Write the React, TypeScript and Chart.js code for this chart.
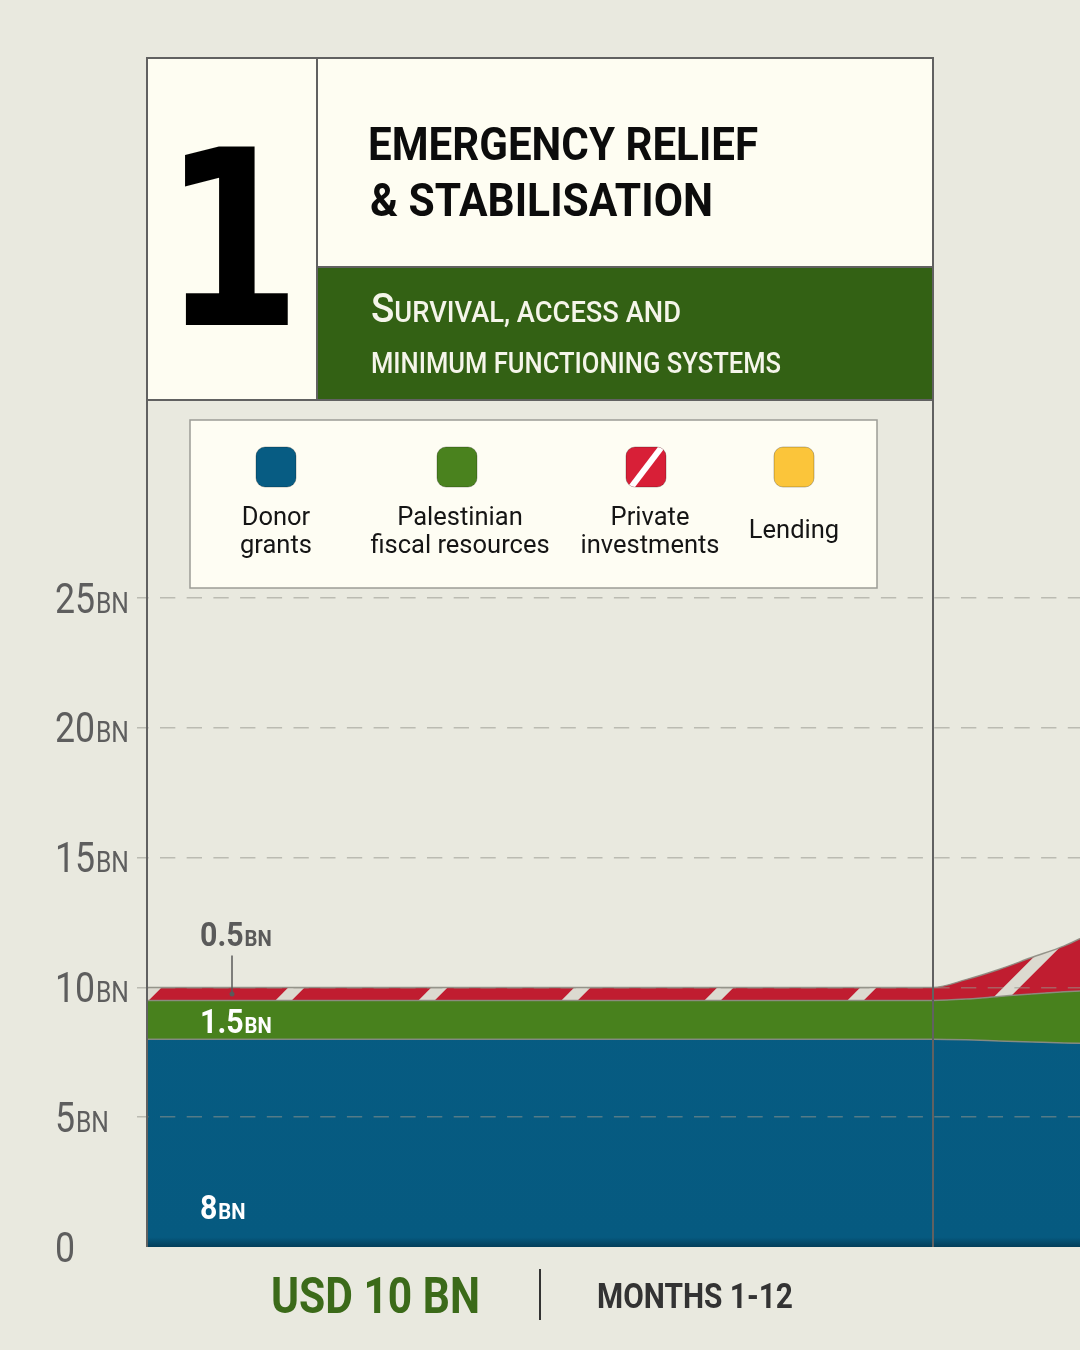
import React, { useEffect, useRef } from 'react';
import { Chart, registerables } from 'chart.js';

Chart.register(...registerables);

// months from the start of phase 1 (12 = end of phase 1, the picture is cut at ~14.2)
const months = [0, 12, 12.5, 13, 13.5, 14, 14.5];
const donorGrants = [8, 8, 7.98, 7.94, 7.9, 7.86, 7.83];
const fiscalResources = [1.5, 1.5, 1.57, 1.71, 1.85, 1.97, 2.07];
const privateInvestments = [0.5, 0.5, 0.75, 1.04, 1.4, 1.77, 2.3];
const yTicks = [0, 5, 10, 15, 20, 25];
const legendLabels = [['Donor', 'grants'], ['Palestinian', 'fiscal resources'], ['Private', 'investments'], ['Lending']];

const FONT = 'Roboto, "DejaVu Sans", sans-serif';
const BLUE = '#075c83';
const GREEN = '#48811d';
const RED = '#c01d30';
const YELLOW = '#fbc53a';
const STRIPE = '#dcdad0';
const BG = '#e9e9df';
const CREAM = '#fefdf2';
const LINE = '#616161';

function makeStripes(base: string, stripe: string) {
  const size = 143;
  const phase = 140;
  const tile = document.createElement('canvas');
  tile.width = size;
  tile.height = size;
  const c = tile.getContext('2d')!;
  c.fillStyle = base;
  c.fillRect(0, 0, size, size);
  c.strokeStyle = stripe;
  c.lineWidth = 11.5;
  for (const k of [phase - size, phase, phase + size, phase + 2 * size]) {
    c.beginPath();
    c.moveTo(k + 200, -200);
    c.lineTo(k - 200, 200);
    c.stroke();
  }
  return c.createPattern(tile, 'repeat')!;
}

function drawBn(ctx: CanvasRenderingContext2D, x: number, base: number, num: string, unit: string,
  big: number, small: number, weight: number, color: string, sx: number) {
  ctx.save();
  ctx.translate(x, base);
  ctx.scale(sx, 1);
  ctx.fillStyle = color;
  ctx.textBaseline = 'alphabetic';
  ctx.textAlign = 'left';
  ctx.font = `${weight} ${big}px ${FONT}`;
  ctx.fillText(num, 0, 0);
  const w = ctx.measureText(num).width;
  if (unit) {
    ctx.font = `${weight} ${small}px ${FONT}`;
    ctx.fillText(unit, w + 1, 0);
  }
  ctx.restore();
}

// tick labels and the value labels of the first phase
const labelsPlugin = {
  id: 'bnLabels',
  afterDraw(chart: any) {
    const { ctx, chartArea, scales } = chart;
    const y = scales.y;
    yTicks.forEach((v) => {
      drawBn(ctx, 55, y.getPixelForValue(v) + 14.5, String(v), v === 0 ? '' : 'BN', 42, 29, 400, '#5e5e5e', 0.85);
    });
    const lx = chartArea.left + 53;
    const top = donorGrants[0] + fiscalResources[0] + privateInvestments[0];
    drawBn(ctx, lx, y.getPixelForValue(0) - 28, String(donorGrants[0]), 'BN', 33, 22, 700, '#ffffff', 0.92);
    drawBn(ctx, lx, y.getPixelForValue(donorGrants[0]) - 6, String(fiscalResources[0]), 'BN', 33, 22, 700, '#ffffff', 0.92);
    drawBn(ctx, lx, y.getPixelForValue(top) - 41, String(privateInvestments[0]), 'BN', 33, 22, 700, '#5a5a5a', 0.92);

    const mid = y.getPixelForValue(top - privateInvestments[0] / 2);
    const px = chartArea.left + 85;
    ctx.save();
    ctx.strokeStyle = '#5a5a5a';
    ctx.fillStyle = '#5a5a5a';
    ctx.lineWidth = 1.5;
    ctx.beginPath();
    ctx.moveTo(px, y.getPixelForValue(top) - 32);
    ctx.lineTo(px, mid);
    ctx.stroke();
    ctx.beginPath();
    ctx.arc(px, mid, 2.5, 0, Math.PI * 2);
    ctx.fill();
    ctx.restore();
  },
};

export default function App() {
  const canvasRef = useRef<HTMLCanvasElement | null>(null);
  const chartRef = useRef<Chart | null>(null);

  useEffect(() => {
    if (!canvasRef.current) return;
    chartRef.current?.destroy();

    const pts = (vals: number[]) => months.map((m, i) => ({ x: m, y: vals[i] }));
    const edge = 'rgba(140,140,130,0.9)';

    const blueFill = (c: any) => {
      const area = c.chart.chartArea;
      if (!area) return BLUE;
      const g = c.chart.ctx.createLinearGradient(0, area.top, 0, area.bottom);
      g.addColorStop(0, '#075e86');
      g.addColorStop(0.985, '#065a80');
      g.addColorStop(1, '#033e5a');
      return g;
    };

    chartRef.current = new Chart(canvasRef.current, {
      type: 'line',
      data: {
        datasets: [
          {
            label: 'Donor grants',
            data: pts(donorGrants),
            fill: 'origin',
            backgroundColor: blueFill,
            borderColor: edge,
            borderWidth: 1.5,
            pointRadius: 0,
            cubicInterpolationMode: 'monotone',
          },
          {
            label: 'Palestinian fiscal resources',
            data: pts(fiscalResources),
            fill: '-1',
            backgroundColor: GREEN,
            borderColor: edge,
            borderWidth: 1.5,
            pointRadius: 0,
            cubicInterpolationMode: 'monotone',
          },
          {
            label: 'Private investments',
            data: pts(privateInvestments),
            fill: '-1',
            backgroundColor: makeStripes(RED, STRIPE),
            borderColor: edge,
            borderWidth: 1.5,
            pointRadius: 0,
            cubicInterpolationMode: 'monotone',
          },
        ],
      } as any,
      options: {
        animation: false,
        responsive: false,
        events: [],
        layout: { padding: { left: 137, right: 0, top: 598, bottom: 103 } },
        plugins: { legend: { display: false }, tooltip: { enabled: false } },
        scales: {
          x: { type: 'linear', min: 0, max: 14.24, display: false },
          y: {
            stacked: true,
            min: 0,
            max: 25,
            afterFit: (s: any) => { s.width = 10; },
            ticks: { display: false, stepSize: 5 },
            border: { display: false, dash: [15.3, 11.4], dashOffset: 13.7 },
            grid: {
              z: 1,
              lineWidth: 1.5,
              tickLength: 10,
              drawTicks: true,
              color: (c: any) => (c.tick && c.tick.value === 0 ? 'rgba(0,0,0,0)' : 'rgba(150,150,140,0.55)'),
            },
          },
        },
      } as any,
      plugins: [labelsPlugin],
    });

    return () => {
      chartRef.current?.destroy();
      chartRef.current = null;
    };
  }, []);

  const swatchX = [256, 437, 626, 774];
  const swatchColors = [BLUE, '#4a821e', '#d81f37', YELLOW];
  const labelX = [276, 460, 650, 794];

  return (
    <div style={{ position: 'absolute', left: 0, top: 0, width: 1080, height: 1350, background: BG, overflow: 'hidden' }}>
      <div style={{ position: 'absolute', left: 0, top: 0, width: 1080, height: 1350 }}>
        <canvas ref={canvasRef} width={1080} height={1350} style={{ width: 1080, height: 1350, display: 'block' }} />
      </div>
      <svg width={1080} height={1350} style={{ position: 'absolute', left: 0, top: 0 }} fontFamily={FONT}>
        <defs>
          <clipPath id="swatchClip">
            <rect x={swatchX[2]} y={447} width={40} height={40} rx={9} />
          </clipPath>
        </defs>

        {/* header block */}
        <rect x={147} y={58} width={170} height={342} fill={CREAM} />
        <rect x={317} y={58} width={616} height={209} fill={CREAM} />
        <rect x={317} y={267} width={616} height={133} fill="#336114" />
        <text x={232} y={325} textAnchor="middle" fontFamily='"DejaVu Sans", sans-serif' fontWeight="bold"
          fontSize={245} textLength={139} lengthAdjust="spacingAndGlyphs" fill="#000">1</text>
        <text x={368} y={160} fontWeight={700} fontSize={46} fill="#0c0c0c" textLength={390} lengthAdjust="spacingAndGlyphs">
          EMERGENCY RELIEF
        </text>
        <text x={370} y={216} fontWeight={700} fontSize={46} fill="#0c0c0c" textLength={343} lengthAdjust="spacingAndGlyphs">
          {'& STABILISATION'}
        </text>
        <text x={371} y={322} fontWeight={500} fill="#f5f5ea" textLength={310} lengthAdjust="spacingAndGlyphs">
          <tspan fontSize={41}>S</tspan>
          <tspan fontSize={29}>URVIVAL, ACCESS AND</tspan>
        </text>
        <text x={371} y={373} fontWeight={500} fontSize={30} fill="#f5f5ea" textLength={410} lengthAdjust="spacingAndGlyphs">
          MINIMUM FUNCTIONING SYSTEMS
        </text>

        {/* frame lines */}
        <g stroke={LINE} strokeWidth={2}>
          <line x1={147} y1={57} x2={147} y2={1247} />
          <line x1={933} y1={57} x2={933} y2={1247} />
          <line x1={146} y1={58} x2={934} y2={58} />
          <line x1={146} y1={400} x2={934} y2={400} />
          <line x1={317} y1={58} x2={317} y2={400} />
          <line x1={317} y1={267} x2={933} y2={267} />
        </g>

        {/* legend */}
        <rect x={190} y={420} width={687} height={168} fill="#fefdf3" stroke="#9c9c96" strokeWidth={1.5} />
        {legendLabels.map((lines, i) => (
          <g key={i}>
            <rect x={swatchX[i]} y={447} width={40} height={40} rx={9} fill={swatchColors[i]} stroke="rgba(0,0,0,0.25)" strokeWidth={1} />
            {i === 2 && (
              <line x1={swatchX[i] + 3} y1={490} x2={swatchX[i] + 38} y2={444} stroke="#fff" strokeWidth={6} clipPath="url(#swatchClip)" />
            )}
            {lines.map((t, j) => (
              <text key={j} x={labelX[i]} y={lines.length === 1 ? 538 : 525 + j * 28} textAnchor="middle" fontSize={25.5} fill="#151515">
                {t}
              </text>
            ))}
          </g>
        ))}

        {/* footer */}
        <text x={271} y={1313} fontWeight={700} fontSize={50} fill="#3b6a19" textLength={209} lengthAdjust="spacingAndGlyphs">
          USD 10 BN
        </text>
        <line x1={540} y1={1269} x2={540} y2={1320} stroke="#333" strokeWidth={2} />
        <text x={597} y={1308} fontWeight={700} fontSize={35} fill="#333" textLength={196} lengthAdjust="spacingAndGlyphs">
          MONTHS 1-12
        </text>
      </svg>
    </div>
  );
}
